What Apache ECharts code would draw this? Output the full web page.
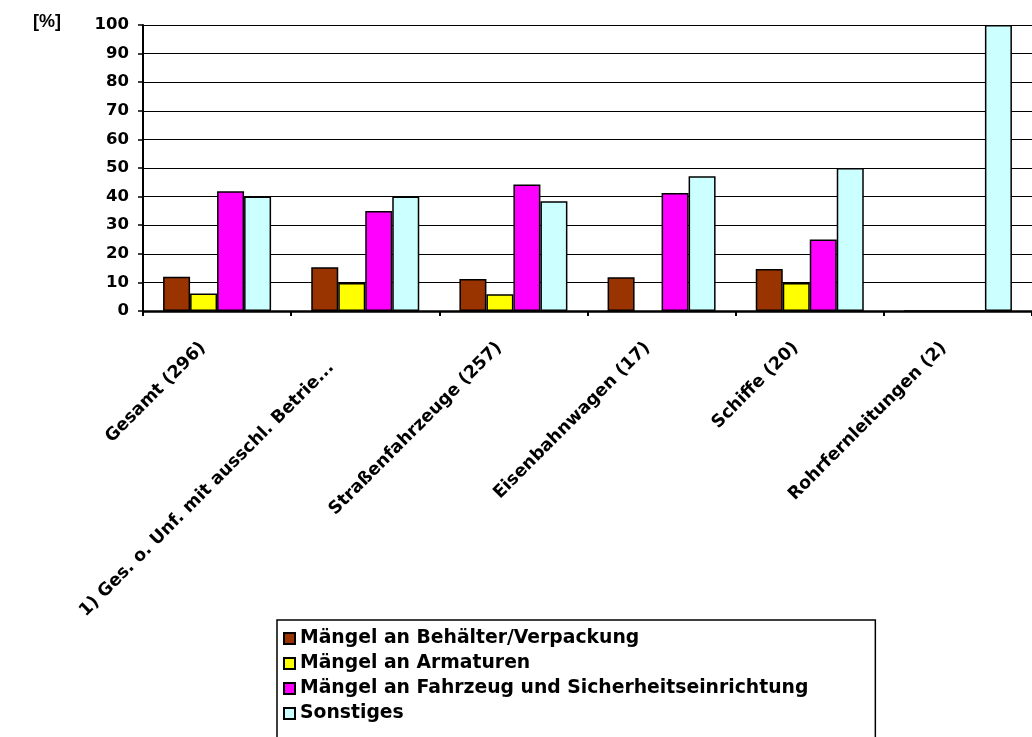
<!DOCTYPE html>
<html>
<head>
<meta charset="utf-8">
<script src="https://cdn.jsdelivr.net/npm/echarts@6/dist/echarts.min.js"></script>
<style>html,body{margin:0;padding:0;background:#fff;}#c{width:1032px;height:737px;}</style>
</head>
<body>
<div id="c"></div>
<script>
const categories = ["Gesamt (296)", "1) Ges. o. Unf. mit ausschl. Betrie...", "Straßenfahrzeuge (257)", "Eisenbahnwagen (17)", "Schiffe (20)", "Rohrfernleitungen (2)"];
const behaelter = [12, 15.3, 11.2, 11.8, 14.7, 0];
const armaturen = [6.1, 9.8, 5.9, null, 9.8, 0];
const fahrzeug = [41.9, 35, 44.2, 41.3, 25, 0];
const sonstiges = [40, 40, 38.4, 47.1, 50, 100];
const yTicks = [0, 10, 20, 30, 40, 50, 60, 70, 80, 90, 100];
const seriesNames = ["Mängel an Behälter/Verpackung", "Mängel an Armaturen", "Mängel an Fahrzeug und Sicherheitseinrichtung", "Sonstiges"];

const FONT = "DejaVu Sans";
const colors = ["#993300", "#FFFF00", "#FF00FF", "#CCFFFF"];
const datasets = [behaelter, armaturen, fahrzeug, sonstiges];

const chart = echarts.init(document.getElementById('c'), null, {renderer: 'canvas'});
chart.setOption({
  animation: false,
  backgroundColor: '#fff',
  title: {
    text: '[%]', left: 33, top: 13, padding: 0,
    textStyle: {fontFamily: 'Liberation Sans', fontWeight: 'bold', fontSize: 18, color: '#000'}
  },
  grid: {left: 143, top: 25, width: 894, height: 286, containLabel: false},
  xAxis: {
    type: 'category',
    data: categories,
    axisLine: {lineStyle: {color: '#000', width: 2.5}},
    axisTick: {show: true, alignWithLabel: false, length: 5, lineStyle: {color: '#000', width: 2}},
    axisLabel: {
      interval: 0, rotate: 45, margin: 20,
      fontFamily: FONT, fontWeight: 'bold', fontSize: 17.5, color: '#000',
      formatter: (v, i) => i === 1 ? '{l|' + v + '}' : '{n|' + v + '}',
      rich: {
        n: {fontFamily: FONT, fontWeight: 'bold', fontSize: 17.5, color: '#000', padding: [0, 20, 0, 0]},
        l: {fontFamily: FONT, fontWeight: 'bold', fontSize: 17.5, color: '#000', padding: [0, 48, 0, 0]}
      }
    },
    splitLine: {show: false}
  },
  yAxis: {
    type: 'value', min: 0, max: 100, interval: 10,
    axisLine: {show: true, lineStyle: {color: '#000', width: 2}},
    axisTick: {show: true, length: 5, lineStyle: {color: '#000', width: 1.5}},
    axisLabel: {
      margin: 14, fontFamily: FONT, fontWeight: 'bold', fontSize: 16.5, color: '#000',
      formatter: v => yTicks.includes(v) ? String(v) : ''
    },
    splitLine: {show: true, lineStyle: {color: '#000', width: 1.2}}
  },
  legend: {
    orient: 'vertical',
    left: 277, top: 620, height: 160,
    data: seriesNames,
    icon: 'rect',
    itemWidth: 11, itemHeight: 11, itemGap: 6,
    padding: [9, 67, 30, 6],
    borderColor: '#000', borderWidth: 1.5,
    backgroundColor: '#fff',
    textStyle: {fontFamily: FONT, fontWeight: 'bold', fontSize: 18.8, color: '#000'}
  },
  series: datasets.map((d, i) => ({
    name: seriesNames[i],
    type: 'bar',
    data: d,
    barWidth: 27,
    barGap: '0%',
    itemStyle: {color: colors[i], borderColor: '#000', borderWidth: 1.5}
  }))
});
</script>
</body>
</html>
